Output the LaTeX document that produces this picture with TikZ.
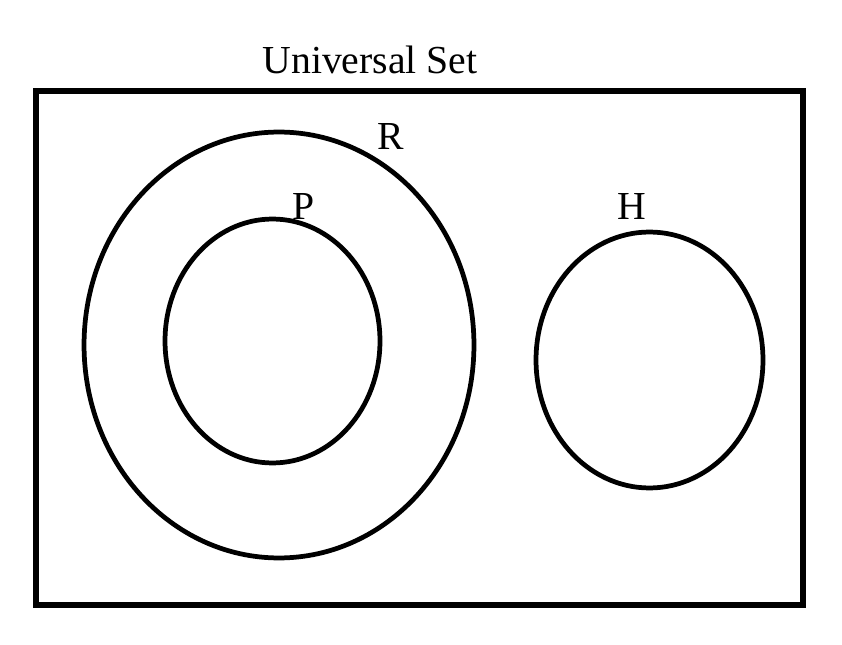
\documentclass[tikz,border=0pt]{standalone}
\usepackage{fontspec}
\setmainfont{Liberation Serif}
\usetikzlibrary{shapes.geometric}
\begin{document}
\begin{tikzpicture}[x=0.02cm,y=-0.02cm,every node/.style={inner sep=0pt,outer sep=0pt},
    conjunto/.style={ellipse,draw=black,line width=2.7pt},
    etiqueta/.style={anchor=base,font=\fontsize{22.6}{26}\selectfont}]
  \useasboundingbox (0,0) rectangle (842,645);

  % Universo
  \node[draw=black,line width=3pt,minimum width=15.34cm,minimum height=10.28cm] (U) at (419.5,348) {};
  \node[etiqueta] (tU) at (370,74) {Universal Set};

  % Conjuntos
  \node[conjunto,minimum width=7.8cm,minimum height=8.52cm] (R) at (279,345) {};
  \node[conjunto,minimum width=4.3cm,minimum height=4.88cm] (P) at (272.5,341) {};
  \node[conjunto,minimum width=4.54cm,minimum height=5.12cm] (H) at (649.5,360) {};

  % Etiquetas
  \foreach \nombre/\x/\y in {R/391/150, P/304/220, H/632/220}
    \node[etiqueta] (t\nombre) at (\x,\y) {\nombre};
\end{tikzpicture}
\end{document}
